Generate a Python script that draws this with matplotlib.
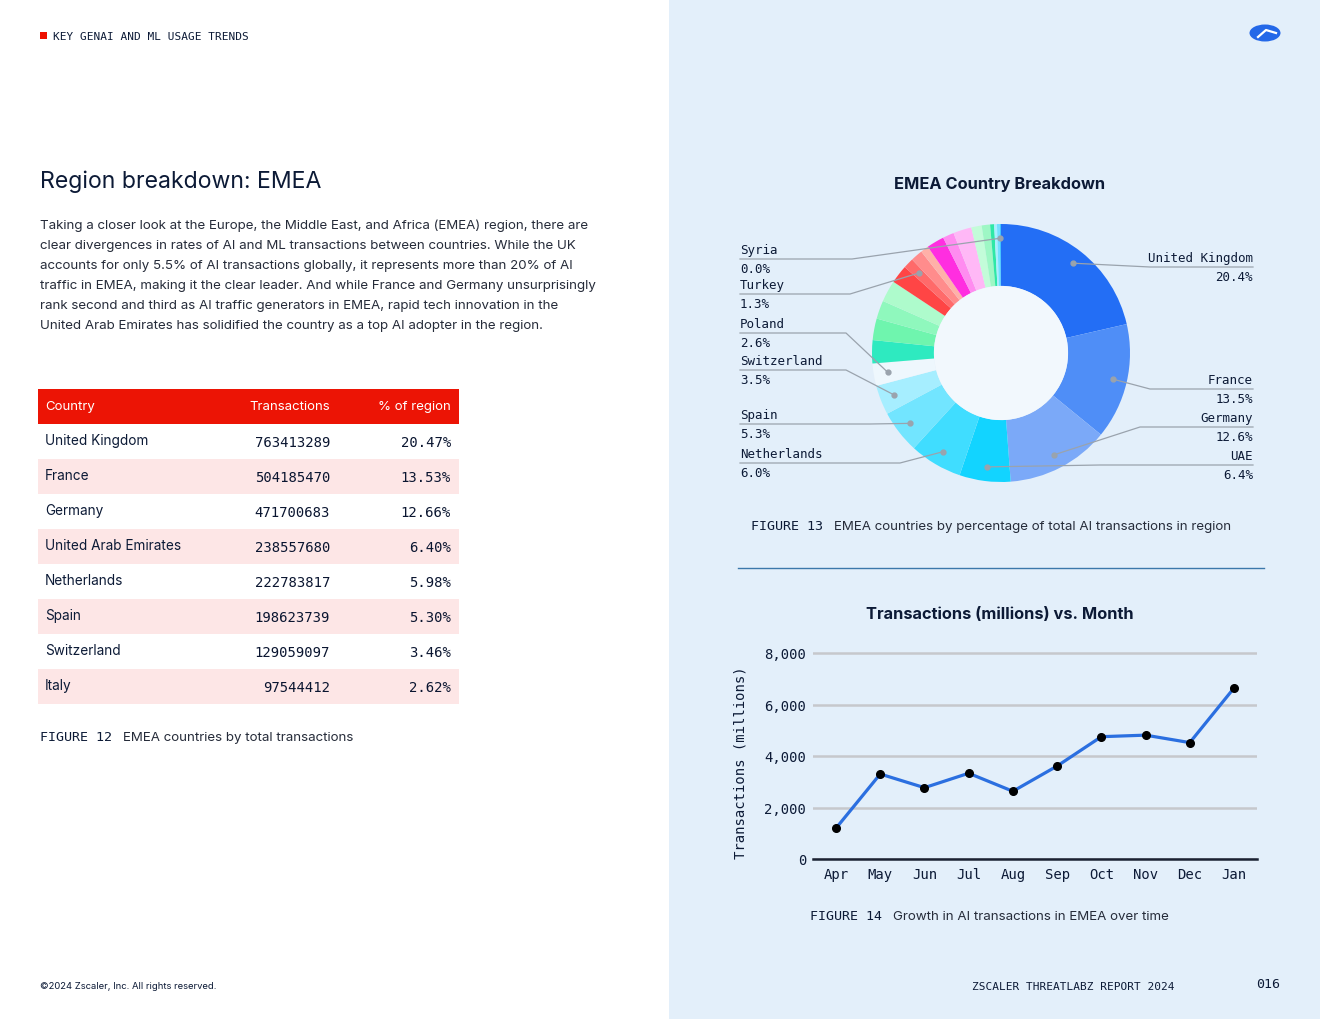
import matplotlib.pyplot as plt
from matplotlib.patches import Rectangle, Circle, Ellipse
import numpy as np

# ---------------- data ----------------
table_countries = ["United Kingdom", "France", "Germany", "United Arab Emirates",
                   "Netherlands", "Spain", "Switzerland", "Italy"]
table_transactions = [763413289, 504185470, 471700683, 238557680,
                      222783817, 198623739, 129059097, 97544412]
table_share = [20.47, 13.53, 12.66, 6.40, 5.98, 5.30, 3.46, 2.62]

slice_share = [21.4, 14.5, 12.9, 6.4, 6.6, 5.4, 3.7, 2.8,
               2.9, 2.7, 2.3, 2.7, 2.3, 1.3, 1.5, 1.0,
               2.2, 1.4, 2.3, 1.3, 1.05, 0.5, 0.35, 0.35, 0.15]
slice_colors = ["#236ef5", "#4f8ef7", "#7ba9f8", "#12d4ff", "#40ddff", "#72e5ff",
                "#a6eeff", "#eef7fd", "#2eeac0", "#6ff5ae", "#8ff8bd", "#aefbcc",
                "#ff4545", "#ff6a6a", "#ff8c8c", "#ffb0a8", "#ff2ee0", "#ff8cf0",
                "#ffb8f6", "#c3fcd9", "#9ef7c5", "#2ee8a6", "#a8efff", "#72e0ff",
                "#3ec4ff"]
# labelled slices: index -> (name, shown percentage)
donut_labels = {0: ("United Kingdom", "20.4%"), 1: ("France", "13.5%"),
                2: ("Germany", "12.6%"), 3: ("UAE", "6.4%"),
                4: ("Netherlands", "6.0%"), 5: ("Spain", "5.3%"),
                6: ("Switzerland", "3.5%"), 7: ("Poland", "2.6%"),
                13: ("Turkey", "1.3%"), 24: ("Syria", "0.0%")}

months = ["Apr", "May", "Jun", "Jul", "Aug", "Sep", "Oct", "Nov", "Dec", "Jan"]
monthly_tx = [1196, 3300, 2770, 3330, 2630, 3610, 4750, 4810, 4520, 6640]

paragraph = [
    "Taking a closer look at the Europe, the Middle East, and Africa (EMEA) region, there are",
    "clear divergences in rates of AI and ML transactions between countries. While the UK",
    "accounts for only 5.5% of AI transactions globally, it represents more than 20% of AI",
    "traffic in EMEA, making it the clear leader. And while France and Germany unsurprisingly",
    "rank second and third as AI traffic generators in EMEA, rapid tech innovation in the",
    "United Arab Emirates has solidified the country as a top AI adopter in the region.",
]

# ---------------- style ----------------
W, H = 1320, 1020
NAVY = "#0c1a36"
TEXT = "#262c3a"
PANEL = "#e3effa"
SANS = "Inter"
MONO = "DejaVu Sans Mono"

fig = plt.figure(figsize=(W / 100, H / 100), dpi=100)
fig.patch.set_facecolor("white")

bg = fig.add_axes([0, 0, 1, 1], zorder=0)
bg.set_xlim(0, W)
bg.set_ylim(H, 0)
bg.axis("off")
bg.add_patch(Rectangle((669, 0), W - 669, H, color=PANEL, lw=0))

fg = fig.add_axes([0, 0, 1, 1], zorder=5)
fg.set_xlim(0, W)
fg.set_ylim(H, 0)
fg.axis("off")
fg.patch.set_alpha(0)

# header / footer
fg.add_patch(Rectangle((40, 33), 7, 7, color="#ee1100", lw=0))
fg.text(53, 37, "KEY GENAI AND ML USAGE TRENDS", family=MONO, size=8,
        color=NAVY, va="center")
fg.text(40, 987, "\u00a92024 Zscaler, Inc. All rights reserved.", family=SANS,
        size=6.8, color=NAVY, va="center")
fg.text(1175, 987, "ZSCALER THREATLABZ REPORT 2024", family=MONO, size=8,
        color=NAVY, va="center", ha="right")
fg.text(1280, 985, "016", family=MONO, size=9.5, color=NAVY, va="center", ha="right")
# logo
fg.add_patch(Ellipse((1265, 34), 31, 17, color="#2468e8", lw=0))
fg.plot([1258, 1266, 1276], [38, 31, 34], color="white", lw=1.6)

# left column text
fg.text(40, 182, "Region breakdown: EMEA", family=SANS, size=16.6, color=NAVY,
        va="center")
for i, line in enumerate(paragraph):
    fg.text(40, 226 + 20 * i, line, family=SANS, size=9.6, color=TEXT, va="center")

# table
tx_left, tx_right, row_h, top = 38, 459, 35, 390
fg.add_patch(Rectangle((tx_left, top), tx_right - tx_left, row_h, color="#ec1405", lw=0))
hy = top + row_h / 2
fg.text(45, hy, "Country", family=SANS, size=9.5, color="white", va="center")
fg.text(330, hy, "Transactions", family=SANS, size=9.5, color="white", va="center", ha="right")
fg.text(451, hy, "% of region", family=SANS, size=9.5, color="white", va="center", ha="right")
for i, (c, t, s) in enumerate(zip(table_countries, table_transactions, table_share)):
    y0 = top + row_h * (i + 1)
    if i % 2 == 1:
        fg.add_patch(Rectangle((tx_left, y0), tx_right - tx_left, row_h,
                               color="#fde6e6", lw=0))
    yc = y0 + row_h / 2
    fg.text(45, yc - 1, c, family=SANS, size=9.8, color=NAVY, va="center")
    fg.text(330, yc + 1, str(t), family=MONO, size=10, color="#0a1530", va="center", ha="right")
    fg.text(451, yc + 1, f"{s:.2f}%", family=MONO, size=10, color="#0a1530", va="center", ha="right")

fg.text(40, 738, "FIGURE 12", family=MONO, size=9.6, color=NAVY, va="center")
fg.text(123, 738, "EMEA countries by total transactions", family=SANS, size=9.6,
        color=TEXT, va="center")

# ---------------- donut ----------------
fg.text(1000, 185, "EMEA Country Breakdown", family=SANS, size=11.8, weight="bold",
        color=NAVY, ha="center", va="center")

cx, cy, R = 1001, 354, 129
pie_ax = fig.add_axes([(cx - R) / W, (H - cy - R) / H, 2 * R / W, 2 * R / H], zorder=2)
wedges, _ = pie_ax.pie(slice_share, colors=slice_colors, startangle=90,
                       counterclock=False, radius=1,
                       wedgeprops=dict(width=0.48, linewidth=0))
pie_ax.add_patch(Circle((0, 0), 0.52, color="#f2f8fd", lw=0))
pie_ax.set_xlim(-1, 1)
pie_ax.set_ylim(-1, 1)

# label layout: side, y of underline, x of elbow
label_layout = {0: ("right", 268, 1150), 1: ("right", 390, 1150),
                2: ("right", 428, 1140), 3: ("right", 466, 1100),
                4: ("left", 464, 900), 5: ("left", 425, 870),
                6: ("left", 371, 846), 7: ("left", 334, 846),
                13: ("left", 295, 850), 24: ("left", 260, 852)}
to_fg = fg.transData.inverted()
for idx, (name, pct) in donut_labels.items():
    w = wedges[idx]
    ang = np.deg2rad((w.theta1 + w.theta2) / 2)
    px, py = to_fg.transform(pie_ax.transData.transform((0.89 * np.cos(ang),
                                                         0.89 * np.sin(ang))))
    side, ly, ex = label_layout[idx]
    x0 = 740 if side == "left" else 1253
    fg.plot([x0, ex, px], [ly, ly, py], color="#9aa3ad", lw=0.9)
    fg.plot(px, py, "o", color="#9aa3ad", ms=3.5)
    ha = "left" if side == "left" else "right"
    fg.text(x0, ly - 3, name, family=MONO, size=9, color=NAVY, ha=ha, va="bottom")
    fg.text(x0, ly + 3, pct, family=MONO, size=9, color=NAVY, ha=ha, va="top")

fg.text(751, 527, "FIGURE 13", family=MONO, size=9.6, color=NAVY, va="center")
fg.text(834, 527, "EMEA countries by percentage of total AI transactions in region",
        family=SANS, size=9.6, color=TEXT, va="center")
fg.plot([738, 1264], [569, 569], color="#3c78aa", lw=1)

# ---------------- line chart ----------------
fg.text(1000, 615, "Transactions (millions) vs. Month", family=SANS, size=11.8,
        weight="bold", color=NAVY, ha="center", va="center")

ymax = 8060
ax = fig.add_axes([813 / W, (H - 860) / H, 444 / W, 206 * ymax / 8000 / H], zorder=2)
ax.patch.set_alpha(0)
x = np.arange(len(months))
ax.plot(x, monthly_tx, color="#2b6fe0", lw=2.3, marker="o", ms=5.5,
        mfc="black", mec="black", zorder=3)
ax.set_xlim(-0.52, len(months) - 0.48)
ax.set_ylim(0, ymax)
ax.set_yticks([0, 2000, 4000, 6000, 8000])
ax.set_yticklabels([f"{v:,}" for v in [0, 2000, 4000, 6000, 8000]])
ax.set_xticks(x)
ax.set_xticklabels(months)
ax.yaxis.grid(True, color="#c6c8cc", lw=1.8)
ax.set_axisbelow(True)
for s in ["top", "right", "left"]:
    ax.spines[s].set_visible(False)
ax.spines["bottom"].set_color("#1b2233")
ax.spines["bottom"].set_linewidth(1.8)
ax.tick_params(length=0, labelsize=10, labelcolor=NAVY)
ax.tick_params(axis="y", pad=5)
ax.tick_params(axis="x", pad=6)
for lab in ax.get_xticklabels() + ax.get_yticklabels():
    lab.set_family(MONO)
ax.set_ylabel("Transactions (millions)", family=MONO, size=10, color=NAVY)
ax.yaxis.set_label_coords(-0.147, 0.47)

fg.text(810, 917, "FIGURE 14", family=MONO, size=9.6, color=NAVY, va="center")
fg.text(893, 917, "Growth in AI transactions in EMEA over time", family=SANS,
        size=9.6, color=TEXT, va="center")

fig.savefig("out.png", dpi=100)
